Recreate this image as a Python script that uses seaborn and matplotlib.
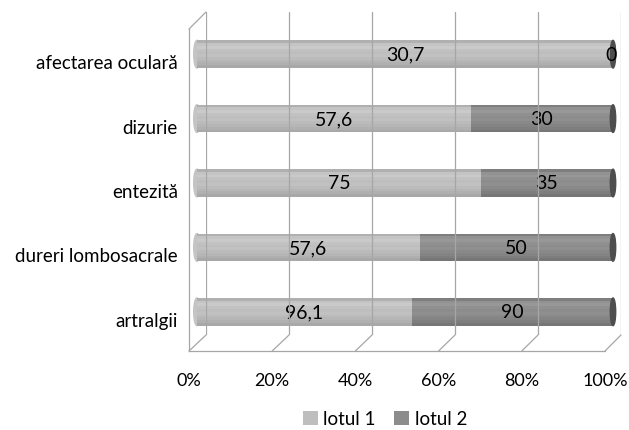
import matplotlib
matplotlib.use("Agg")
import matplotlib.pyplot as plt
import matplotlib.transforms as mtransforms
from matplotlib.patches import Ellipse, Patch, ConnectionPatch
import numpy as np
import pandas as pd
import seaborn as sns

categories = ["afectarea oculară", "dizurie", "entezită", "dureri lombosacrale", "artralgii"]
lotul1 = [30.7, 57.6, 75, 57.6, 96.1]
lotul2 = [0, 30, 35, 50, 90]
series_names = ["lotul 1", "lotul 2"]
xticks = [0, 20, 40, 60, 80, 100]
xtick_labels = ["0%", "20%", "40%", "60%", "80%", "100%"]

c1 = "#BEBEBE"
c2 = "#8C8C8C"
frame = "#A6A6A6"

sns.set_theme(style="white")
plt.rcParams["font.family"] = ["Lato", "DejaVu Sans"]

W, H = 629, 431
fig = plt.figure(figsize=(W / 100, H / 100), dpi=100)

def fx(px):
    return px / W

def fy(py):
    return (H - py) / H

# front axes
ax = fig.add_axes([fx(189), fy(352), fx(605) - fx(189), fy(30) - fy(352)])
ax.patch.set_alpha(0)

df = pd.DataFrame({"cat": categories, "v1": lotul1, "v2": lotul2})
df["p1"] = df["v1"] / (df["v1"] + df["v2"]) * 100
df["ptot"] = 100.0

bw = 0.43
sns.barplot(data=df, x="ptot", y="cat", orient="h", color=c2, width=bw,
            saturation=1, ax=ax, order=categories, linewidth=0)
sns.barplot(data=df, x="p1", y="cat", orient="h", color=c1, width=bw,
            saturation=1, ax=ax, order=categories, linewidth=0)

off = mtransforms.ScaledTranslation(8 / 100, 7 / 100, fig.dpi_scale_trans)
tr = ax.transData + off
for p in ax.patches:
    p.set_transform(tr)
    p.set_edgecolor("none")
    p.set_linewidth(0)
    p.set_clip_on(False)

def shade(hexc, d):
    r, g, b = matplotlib.colors.to_rgb(hexc)
    return (min(1, max(0, r + d / 255)), min(1, max(0, g + d / 255)), min(1, max(0, b + d / 255)))

deltas = [-14, 6, 12, 4, 0, 3, -3, -8, -14, -22]
n = len(deltas)
ypos = np.arange(len(categories))
for i in ypos:
    p1 = df["p1"].iloc[i]
    for k, d in enumerate(deltas):
        yc = i - bw / 2 + (k + 0.5) * bw / n
        b = ax.barh(yc, p1, height=bw / n * 1.02, color=shade(c1, d), transform=tr,
                    zorder=3, linewidth=0)
        for r in b:
            r.set_clip_on(False)
        if p1 < 100:
            b = ax.barh(yc, 100 - p1, left=p1, height=bw / n * 1.02, color=shade(c2, d),
                        transform=tr, zorder=3, linewidth=0)
            for r in b:
                r.set_clip_on(False)
    e = Ellipse((0, i), 1.6, bw, color="#C4C4C4", transform=tr, zorder=2, clip_on=False)
    ax.add_patch(e)
    e = Ellipse((100, i), 1.3, bw, color="#4E4E4E", transform=tr, zorder=4, clip_on=False)
    ax.add_patch(e)

def fmt(v):
    return f"{v:g}".replace(".", ",")

for i in ypos:
    p1 = df["p1"].iloc[i]
    ax.text(p1 / 2, i, fmt(lotul1[i]), ha="center", va="center", fontsize=14,
            color="#000000", transform=tr, zorder=6, clip_on=False)
    xm = (p1 + 100) / 2 if lotul2[i] > 0 else 99.6
    ax.text(xm, i, fmt(lotul2[i]), ha="center", va="center", fontsize=14,
            color="#000000", transform=tr, zorder=6, clip_on=False)

ax.set_xlim(0, 100)
ax.set_ylim(len(categories) - 0.5, -0.5)
ax.set_xticks(xticks)
ax.set_xticklabels(xtick_labels, fontsize=13, color="#000000")
ax.set_yticks(ypos)
ax.set_yticklabels(categories, fontsize=13.5, color="#000000")
ax.set_yticks(np.arange(len(categories) + 1) - 0.5, minor=True)
ax.tick_params(axis="y", which="major", length=0, pad=8)
ax.tick_params(axis="y", which="minor", length=5, color=frame, direction="out")
ax.tick_params(axis="x", length=5, color=frame, direction="out", pad=10)
ax.set_xlabel("")
ax.set_ylabel("")
for k in ["top", "right"]:
    ax.spines[k].set_visible(False)
for k in ["left", "bottom"]:
    ax.spines[k].set_color(frame)
    ax.spines[k].set_linewidth(0.9)

# back wall (drawn over bars, as in the reference)
ax_back = fig.add_axes([fx(206), fy(336), fx(621) - fx(206), fy(13) - fy(336)])
ax_back.set_xlim(0, 100)
ax_back.set_ylim(0, 1)
for s in ax_back.spines.values():
    s.set_visible(False)
ax_back.set_xticks([])
ax_back.set_yticks([])
ax_back.patch.set_alpha(0)
for t in xticks:
    ax_back.axvline(t, color=frame, lw=0.9)

for t in xticks:
    cp = ConnectionPatch((t, len(categories) - 0.5), (t, 0), coordsA=ax.transData,
                         coordsB=ax_back.transData, color=frame, lw=0.9)
    fig.add_artist(cp)
cp = ConnectionPatch((0, -0.5), (0, 1), coordsA=ax.transData,
                     coordsB=ax_back.transData, color=frame, lw=0.9)
fig.add_artist(cp)

handles = [Patch(facecolor=c1, edgecolor="none"), Patch(facecolor=c2, edgecolor="none")]
fig.legend(handles, series_names, loc="center", bbox_to_anchor=(fx(385), fy(420)),
           ncol=2, frameon=False, fontsize=13.5, handlelength=0.8, handleheight=0.8,
           handletextpad=0.3, columnspacing=1.0, labelcolor="#000000")

fig.savefig("out.png", dpi=100)
